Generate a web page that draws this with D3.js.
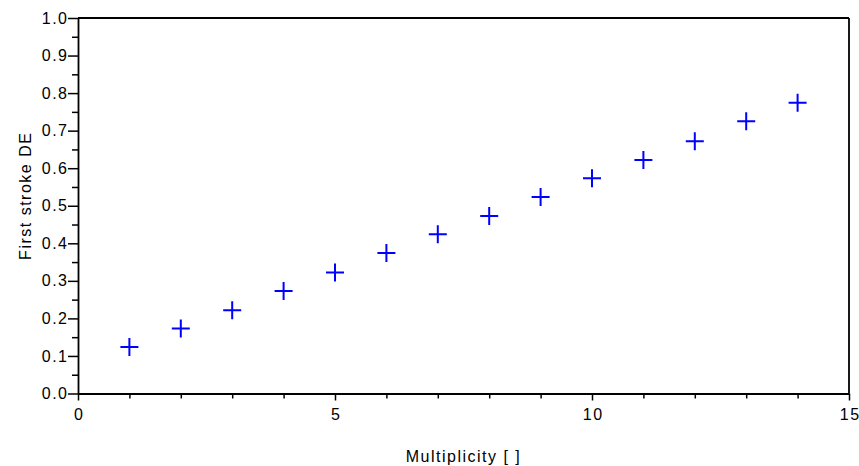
<!DOCTYPE html>
<html>
<head>
<meta charset="utf-8">
<script src="https://cdn.jsdelivr.net/npm/d3@7"></script>
<style>
  body { margin: 0; background: #fff; }
  svg text { font-family: "Liberation Sans", Arial, sans-serif; font-size: 16px; letter-spacing: 1.5px; fill: #000; }
</style>
</head>
<body>
<svg id="chart" width="859" height="466"></svg>
<script>
// values
var multiplicity = [1, 2, 3, 4, 5, 6, 7, 8, 9, 10, 11, 12, 13, 14];
var firstStrokeDE = [0.124, 0.173, 0.222, 0.273, 0.322, 0.374, 0.424, 0.473, 0.523, 0.573, 0.622, 0.672, 0.725, 0.774];

var xMajor = [0, 5, 10, 15];
var xMinor = [1, 2, 3, 4, 6, 7, 8, 9, 11, 12, 13, 14];
var yMajor = [0, 0.1, 0.2, 0.3, 0.4, 0.5, 0.6, 0.7, 0.8, 0.9, 1.0];
var yMinor = [0.05, 0.15, 0.25, 0.35, 0.45, 0.55, 0.65, 0.75, 0.85, 0.95];

var xLabel = "Multiplicity [ ]";
var yLabel = "First stroke DE";

var plotLeft = 78, plotRight = 849, plotTop = 18, plotBottom = 393.5;

var svg = d3.select("#chart");

var x = d3.scaleLinear().domain([0, 15]).range([plotLeft, plotRight]);
var y = d3.scaleLinear().domain([0, 1]).range([plotBottom, plotTop]);

// frame top / right
svg.append("line")
    .attr("x1", plotLeft).attr("x2", plotRight)
    .attr("y1", plotTop).attr("y2", plotTop)
    .attr("stroke", "#000").attr("stroke-width", 1.8);
svg.append("line")
    .attr("x1", plotRight).attr("x2", plotRight)
    .attr("y1", plotTop).attr("y2", plotBottom)
    .attr("stroke", "#000").attr("stroke-width", 1.8);

// x axis
var gx = svg.append("g").attr("transform", "translate(0," + plotBottom + ")");
gx.call(d3.axisBottom(x).tickValues(xMinor).tickSize(5).tickFormat(""))
    .call(g => g.select(".domain").remove());
gx.append("g").call(d3.axisBottom(x).tickValues(xMajor).tickSize(7).tickSizeOuter(0).tickFormat(d3.format("d")));

// y axis
var gy = svg.append("g").attr("transform", "translate(" + plotLeft + ",0)");
gy.call(d3.axisLeft(y).tickValues(yMinor).tickSize(6).tickFormat(""))
    .call(g => g.select(".domain").remove());
gy.append("g").call(d3.axisLeft(y).tickValues(yMajor).tickSize(10).tickSizeOuter(0).tickFormat(d3.format(".1f")));

svg.selectAll(".domain").attr("stroke-width", 1.8);
svg.selectAll(".tick line").attr("stroke-width", 1.5);

gx.selectAll(".tick text").attr("y", 15).attr("dx", "0.7px");
gy.selectAll(".tick text").attr("x", -11).attr("dx", "1.5px");

// axis titles
svg.append("text")
    .attr("x", (plotLeft + plotRight) / 2)
    .attr("y", 462)
    .attr("text-anchor", "middle")
    .text(xLabel);

svg.append("text")
    .attr("transform", "translate(31," + ((plotTop + plotBottom) / 2 - 10) + ") rotate(-90)")
    .attr("text-anchor", "middle")
    .text(yLabel);

// plus markers
var pts = multiplicity.map((m, i) => ({ m: m, v: firstStrokeDE[i] }));
var arm = 9;
svg.append("g")
    .selectAll("path")
    .data(pts)
    .enter().append("path")
    .attr("d", d => {
        var cx = x(d.m), cy = y(d.v);
        return "M" + (cx - arm) + "," + cy + "H" + (cx + arm) + "M" + cx + "," + (cy - arm) + "V" + (cy + arm);
    })
    .attr("stroke", "#0000ff")
    .attr("stroke-width", 2)
    .attr("fill", "none");
</script>
</body>
</html>
